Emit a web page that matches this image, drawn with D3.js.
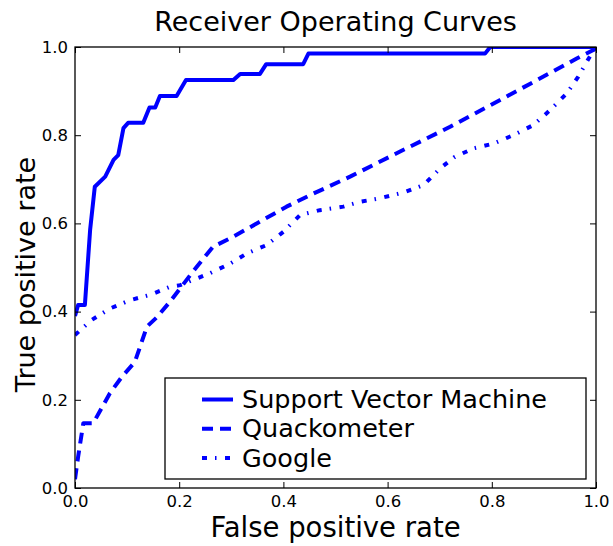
<!DOCTYPE html>
<html>
<head>
<meta charset="utf-8">
<script src="https://cdn.jsdelivr.net/npm/d3@7"></script>
<style>
  html, body { margin: 0; padding: 0; background: #fff; }
  svg { display: block; }
  text { font-family: "DejaVu Sans", sans-serif; fill: #000; }
</style>
</head>
<body>
<svg id="chart" width="613" height="546"></svg>
<script>
const title = "Receiver Operating Curves";
const xLabel = "False positive rate";
const yLabel = "True positive rate";
const tickValues = [0, 0.2, 0.4, 0.6, 0.8, 1.0];
const tickLabels = ["0.0", "0.2", "0.4", "0.6", "0.8", "1.0"];
const seriesNames = ["Support Vector Machine", "Quackometer", "Google"];

const svmFpr = [0, 0.006, 0.019, 0.029, 0.038, 0.058, 0.074, 0.083, 0.093, 0.102, 0.131, 0.143, 0.154, 0.163, 0.195, 0.213, 0.304, 0.317, 0.355, 0.367, 0.438, 0.448, 0.787, 0.797, 1.0];
const svmTpr = [0.39, 0.415, 0.415, 0.585, 0.683, 0.706, 0.744, 0.755, 0.816, 0.828, 0.828, 0.863, 0.863, 0.889, 0.889, 0.925, 0.925, 0.939, 0.939, 0.961, 0.961, 0.985, 0.985, 1.0, 1.0];

const quackFpr = [0, 0.006, 0.016, 0.035, 0.067, 0.09, 0.115, 0.138, 0.157, 0.182, 0.202, 0.224, 0.247, 0.265, 0.304, 0.355, 0.406, 0.451, 0.528, 0.624, 0.72, 0.816, 0.893, 0.963, 0.995, 1.0];
const quackTpr = [0.02, 0.071, 0.147, 0.147, 0.215, 0.252, 0.286, 0.366, 0.387, 0.422, 0.453, 0.487, 0.521, 0.547, 0.57, 0.604, 0.638, 0.664, 0.706, 0.763, 0.819, 0.88, 0.929, 0.974, 0.993, 1.0];

const googleFpr = [0, 0.032, 0.067, 0.106, 0.144, 0.182, 0.202, 0.227, 0.259, 0.298, 0.33, 0.368, 0.4, 0.432, 0.47, 0.515, 0.547, 0.585, 0.63, 0.669, 0.701, 0.729, 0.765, 0.803, 0.841, 0.88, 0.912, 0.944, 0.966, 0.986, 1.0];
const googleTpr = [0.347, 0.381, 0.407, 0.426, 0.438, 0.456, 0.46, 0.472, 0.487, 0.509, 0.532, 0.551, 0.581, 0.619, 0.63, 0.638, 0.649, 0.657, 0.67, 0.687, 0.725, 0.751, 0.77, 0.781, 0.8, 0.823, 0.857, 0.895, 0.933, 0.974, 1.0];

const series = [
  { name: seriesNames[0], x: svmFpr, y: svmTpr, dash: null },
  { name: seriesNames[1], x: quackFpr, y: quackTpr, dash: "11,7" },
  { name: seriesNames[2], x: googleFpr, y: googleTpr, dash: "5,8,1.5,8.5" }
];

const L = 75, R = 596, T = 47, B = 488;
const svg = d3.select("#chart");
const x = d3.scaleLinear().domain([0, 1]).range([L, R]);
const y = d3.scaleLinear().domain([0, 1]).range([B, T]);
const color = "#0000ff";

svg.append("defs").append("clipPath").attr("id", "clip")
  .append("rect").attr("x", L).attr("y", T).attr("width", R - L).attr("height", B - T);

const line = d3.line().x(d => x(d[0])).y(d => y(d[1]));
const plot = svg.append("g").attr("clip-path", "url(#clip)");
series.forEach(s => {
  const pts = s.x.map((v, i) => [v, s.y[i]]);
  plot.append("path").datum(pts)
    .attr("d", line)
    .attr("fill", "none")
    .attr("stroke", color)
    .attr("stroke-width", 4)
    .attr("stroke-linejoin", "round")
    .attr("stroke-dasharray", s.dash);
});

// axes (ticks inside, on all four sides)
const tickLen = 6;
const fmt = (d) => tickLabels[tickValues.indexOf(d)];
const axB = d3.axisBottom(x).tickValues(tickValues).tickSize(-tickLen).tickPadding(7).tickFormat(fmt);
const axL = d3.axisLeft(y).tickValues(tickValues).tickSize(-tickLen).tickPadding(7).tickFormat(fmt);
const axT = d3.axisTop(x).tickValues(tickValues).tickSize(-tickLen).tickFormat("");
const axR = d3.axisRight(y).tickValues(tickValues).tickSize(-tickLen).tickFormat("");

function style(g) {
  g.select(".domain").remove();
  g.selectAll(".tick line").attr("stroke", "#000").attr("stroke-width", 1);
  g.selectAll(".tick text").attr("font-size", 16.5).attr("font-family", "DejaVu Sans").attr("fill", "#000");
}
svg.append("g").attr("transform", `translate(0,${B})`).call(axB).call(style);
svg.append("g").attr("transform", `translate(${L},0)`).call(axL).call(style);
svg.append("g").attr("transform", `translate(0,${T})`).call(axT).call(style);
svg.append("g").attr("transform", `translate(${R},0)`).call(axR).call(style);

svg.append("rect").attr("x", L).attr("y", T).attr("width", R - L).attr("height", B - T)
  .attr("fill", "none").attr("stroke", "#000").attr("stroke-width", 1.3);

// title and labels
svg.append("text").attr("x", (L + R) / 2).attr("y", 31).attr("text-anchor", "middle")
  .attr("font-size", 27).text(title);
svg.append("text").attr("x", (L + R) / 2).attr("y", 537).attr("text-anchor", "middle")
  .attr("font-size", 27.5).text(xLabel);
svg.append("text").attr("transform", `translate(35,${(T + B) / 2 + 7}) rotate(-90)`).attr("text-anchor", "middle")
  .attr("font-size", 27).text(yLabel);

// legend
const lg = svg.append("g");
lg.append("rect").attr("x", 165).attr("y", 378).attr("width", 421).attr("height", 101)
  .attr("fill", "#fff").attr("stroke", "#000").attr("stroke-width", 1.3);
series.forEach((s, i) => {
  const ly = 399.5 + i * 29.3;
  lg.append("line").attr("x1", 202).attr("x2", 233).attr("y1", ly).attr("y2", ly)
    .attr("stroke", color).attr("stroke-width", 4).attr("stroke-dasharray", s.dash);
  lg.append("text").attr("x", 242).attr("y", ly + 8.5).attr("font-size", 25.5).text(s.name);
});
</script>
</body>
</html>
